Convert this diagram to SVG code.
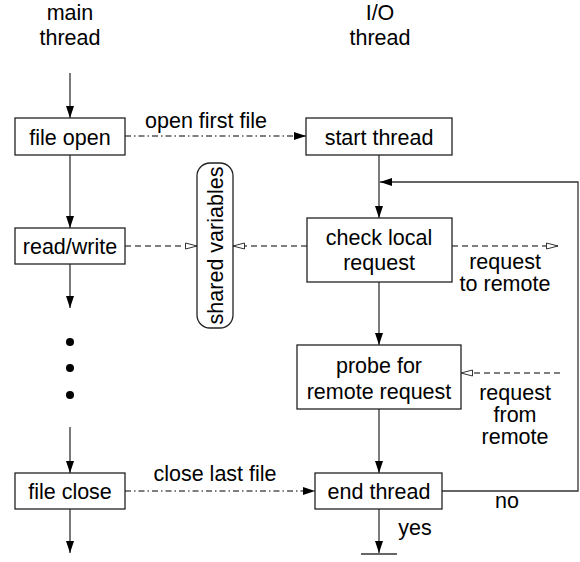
<svg xmlns="http://www.w3.org/2000/svg" width="580" height="562" viewBox="0 0 580 562">
<style>
text{font-family:"Liberation Sans",Arial,sans-serif;font-size:21.5px;fill:#000;text-anchor:middle}
.box{fill:#fff;stroke:#222;stroke-width:1.3}
.solid{fill:none;stroke:#333;stroke-width:1.3}
.dash{fill:none;stroke:#555;stroke-width:1.3;stroke-dasharray:6 4}
.dashdot{fill:none;stroke:#555;stroke-width:1.3;stroke-dasharray:6 3 1.5 3}
</style>
<defs>
<marker id="fa" markerUnits="userSpaceOnUse" markerWidth="12" markerHeight="10" refX="12" refY="5" orient="auto">
<path d="M0,1 L12,5 L0,9 Z" fill="#000"/>
</marker>
<marker id="oa" markerUnits="userSpaceOnUse" markerWidth="14" markerHeight="10" refX="12.5" refY="5" orient="auto">
<path d="M1,2 L12.5,5 L1,8 Z" fill="#fff" stroke="#333" stroke-width="1"/>
</marker>
</defs>
<g id="labels">
<text x="70" y="20">main</text>
<text x="70" y="45">thread</text>
<text x="380" y="20">I/O</text>
<text x="380" y="45">thread</text>
</g>
<g id="connectors">
<line class="solid" x1="70" y1="73" x2="70" y2="118" marker-end="url(#fa)"/>
<line class="solid" x1="70" y1="155" x2="70" y2="228" marker-end="url(#fa)"/>
<line class="solid" x1="70" y1="264" x2="70" y2="308" marker-end="url(#fa)"/>
<line class="solid" x1="70" y1="427" x2="70" y2="473" marker-end="url(#fa)"/>
<line class="solid" x1="70" y1="509" x2="70" y2="553" marker-end="url(#fa)"/>
<circle cx="70" cy="342" r="4" fill="#000"/>
<circle cx="70" cy="368" r="4" fill="#000"/>
<circle cx="70" cy="395" r="4" fill="#000"/>
<line class="dashdot" x1="125" y1="136" x2="306" y2="136" marker-end="url(#fa)"/>
<text x="206" y="128">open first file</text>
<line class="dashdot" x1="125" y1="491" x2="315" y2="491" marker-end="url(#fa)"/>
<text x="215" y="481">close last file</text>
<line class="dash" x1="125" y1="246" x2="197" y2="246" marker-end="url(#oa)"/>
<line class="dash" x1="307" y1="246" x2="233" y2="246" marker-end="url(#oa)"/>
<line class="dash" x1="452" y1="246" x2="558" y2="246" marker-end="url(#oa)"/>
<text x="505" y="269">request</text>
<text x="505" y="291">to remote</text>
<line class="dash" x1="560" y1="373" x2="461" y2="373" marker-end="url(#oa)"/>
<text x="515" y="400">request</text>
<text x="515" y="422">from</text>
<text x="515" y="444">remote</text>
<line class="solid" x1="379" y1="155" x2="379" y2="218" marker-end="url(#fa)"/>
<polyline class="solid" points="442,491 578,491 578,182 380,182" marker-end="url(#fa)"/>
<text x="507" y="508">no</text>
<line class="solid" x1="379" y1="282" x2="379" y2="345" marker-end="url(#fa)"/>
<line class="solid" x1="379" y1="409" x2="379" y2="473" marker-end="url(#fa)"/>
<line class="solid" x1="379" y1="509" x2="379" y2="553" marker-end="url(#fa)"/>
<line class="solid" x1="361" y1="554" x2="397" y2="554"/>
<text x="415" y="535">yes</text>
</g>
<g id="file-open">
<rect class="box" x="15" y="118" width="110" height="37"/>
<text x="70" y="145">file open</text>
</g>
<g id="read-write">
<rect class="box" x="15" y="228" width="110" height="36"/>
<text x="70" y="254">read/write</text>
</g>
<g id="file-close">
<rect class="box" x="15" y="473" width="110" height="36"/>
<text x="70" y="499">file close</text>
</g>
<g id="shared-variables">
<rect class="box" x="197" y="163" width="36" height="165" rx="13" ry="13"/>
<text transform="translate(223,245.5) rotate(-90)" x="0" y="0">shared variables</text>
</g>
<g id="start-thread">
<rect class="box" x="306" y="118" width="146" height="37"/>
<text x="379" y="145">start thread</text>
</g>
<g id="check-local">
<rect class="box" x="307" y="218" width="145" height="64"/>
<text x="379" y="245">check local</text>
<text x="379" y="270">request</text>
</g>
<g id="probe">
<rect class="box" x="297" y="345" width="164" height="64"/>
<text x="379" y="373">probe for</text>
<text x="379" y="399">remote request</text>
</g>
<g id="end-thread">
<rect class="box" x="315" y="473" width="127" height="36"/>
<text x="379" y="499">end thread</text>
</g>
</svg>
